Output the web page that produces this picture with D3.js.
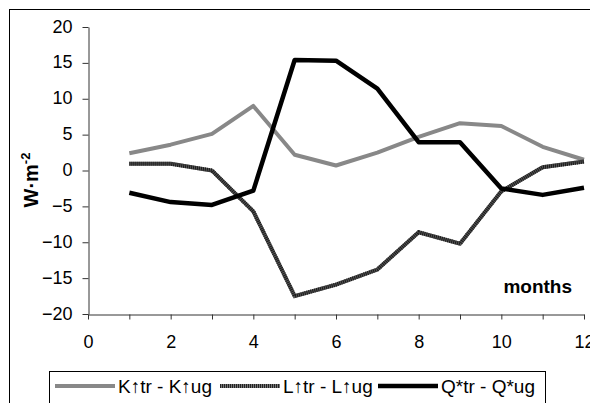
<!DOCTYPE html>
<html>
<head>
<meta charset="utf-8">
<script src="https://cdn.jsdelivr.net/npm/d3@7"></script>
<style>
  body { margin: 0; background: #fff; }
  svg { display: block; font-family: Arial, "Liberation Sans", sans-serif; }
</style>
</head>
<body>
<svg id="chart"></svg>
<script>
    //-------------------
    // DATA
    //-------------------
    var months = [1, 2, 3, 4, 5, 6, 7, 8, 9, 10, 11, 12];
    var kDiff = [2.4, 3.6, 5.1, 9.0, 2.2, 0.7, 2.5, 4.7, 6.6, 6.2, 3.3, 1.5];
    var lDiff = [0.95, 0.95, 0, -5.7, -17.5, -15.9, -13.8, -8.6, -10.2, -2.9, 0.45, 1.25];
    var qDiff = [-3.1, -4.4, -4.8, -2.8, 15.4, 15.3, 11.4, 3.95, 3.95, -2.5, -3.4, -2.4];
    var xTicks = [0, 1, 2, 3, 4, 5, 6, 7, 8, 9, 10, 11, 12];
    var xLabels = [0, 2, 4, 6, 8, 10, 12];
    var yTicks = [-20, -15, -10, -5, 0, 5, 10, 15, 20];
    var seriesNames = ["K\u2191tr - K\u2191ug", "L\u2191tr - L\u2191ug", "Q*tr - Q*ug"];

    var width = 590,
        height = 403;

    var svg = d3.select("#chart")
        .attr("width", width)
        .attr("height", height);

    // outer chart border (runs off right/bottom edge)
    svg.append("rect")
        .attr("x", 9.5).attr("y", 9.5)
        .attr("width", 620).attr("height", 420)
        .attr("fill", "none")
        .attr("stroke", "#000");

    var x = d3.scaleLinear().domain([0, 12]).range([88, 584]);
    var y = d3.scaleLinear().domain([-20, 20]).range([314, 27]);

    //------------
    //  AXES
    //------------
    var yAxis = svg.append("g")
        .attr("transform", "translate(88.5,0)")
        .call(d3.axisLeft(y).tickValues(yTicks).tickSize(6).tickPadding(0).tickSizeOuter(0));
    yAxis.select(".domain").attr("stroke", "#333");
    yAxis.selectAll(".tick line").attr("stroke", "#333");
    yAxis.selectAll(".tick text")
        .attr("x", -16)
        .attr("dy", 5)
        .attr("font-size", 18)
        .attr("fill", "#000");

    var xAxis = svg.append("g")
        .attr("transform", "translate(0,314.5)")
        .call(d3.axisBottom(x).tickValues(xTicks).tickSize(5).tickSizeOuter(0)
            .tickFormat(d => xLabels.indexOf(d) >= 0 ? d : ""));
    xAxis.select(".domain").attr("stroke", "#333");
    xAxis.selectAll(".tick line").attr("stroke", "#333");
    xAxis.selectAll(".tick text")
        .attr("y", 33)
        .attr("dy", 0)
        .attr("font-size", 18)
        .attr("fill", "#000");

    // axis titles
    var yTitle = svg.append("text")
        .attr("transform", "translate(38,180) rotate(-90)")
        .attr("text-anchor", "middle")
        .attr("font-size", 20)
        .attr("font-weight", "bold");
    yTitle.append("tspan").text("W\u00b7m");
    yTitle.append("tspan").attr("dy", -8).attr("font-size", 13).text("-2");

    svg.append("text")
        .attr("x", 572).attr("y", 293)
        .attr("text-anchor", "end")
        .attr("font-size", 19)
        .attr("font-weight", "bold")
        .text("months");

    //------------
    //  LINES
    //------------
    var line = d3.line()
        .x((d, i) => x(months[i]))
        .y(d => y(d));

    svg.append("path").datum(kDiff)
        .attr("d", line)
        .attr("fill", "none")
        .attr("stroke", "#888")
        .attr("stroke-width", 4)
        .attr("stroke-linejoin", "round");

    // striped line: grey base + dark dashes
    svg.append("path").datum(lDiff)
        .attr("d", line)
        .attr("fill", "none")
        .attr("stroke", "#555")
        .attr("stroke-width", 4);
    svg.append("path").datum(lDiff)
        .attr("d", line)
        .attr("fill", "none")
        .attr("stroke", "#1a1a1a")
        .attr("stroke-width", 4)
        .attr("stroke-dasharray", "1,1");

    svg.append("path").datum(qDiff)
        .attr("d", line)
        .attr("fill", "none")
        .attr("stroke", "#000")
        .attr("stroke-width", 4.5)
        .attr("stroke-linejoin", "round");

    //------------
    //  LEGEND
    //------------
    svg.append("rect")
        .attr("x", 49.5).attr("y", 371.5)
        .attr("width", 496).attr("height", 60)
        .attr("fill", "#fff")
        .attr("stroke", "#000");

    var legendX = [55, 220, 378];
    var legendY = 386;
    var lg = svg.append("g");
    seriesNames.forEach((name, i) => {
        var x0 = legendX[i];
        if (i === 0) {
            lg.append("line").attr("x1", x0).attr("x2", x0 + 60).attr("y1", legendY).attr("y2", legendY)
                .attr("stroke", "#888").attr("stroke-width", 4);
        } else if (i === 1) {
            lg.append("line").attr("x1", x0).attr("x2", x0 + 60).attr("y1", legendY).attr("y2", legendY)
                .attr("stroke", "#777").attr("stroke-width", 4);
            lg.append("line").attr("x1", x0).attr("x2", x0 + 60).attr("y1", legendY).attr("y2", legendY)
                .attr("stroke", "#222").attr("stroke-width", 4).attr("stroke-dasharray", "1,1");
        } else {
            lg.append("line").attr("x1", x0).attr("x2", x0 + 60).attr("y1", legendY).attr("y2", legendY)
                .attr("stroke", "#000").attr("stroke-width", 4.5);
        }
        lg.append("text")
            .attr("x", x0 + 63)
            .attr("y", legendY + 7)
            .attr("font-size", 19)
            .text(name);
    });
</script>
</body>
</html>
